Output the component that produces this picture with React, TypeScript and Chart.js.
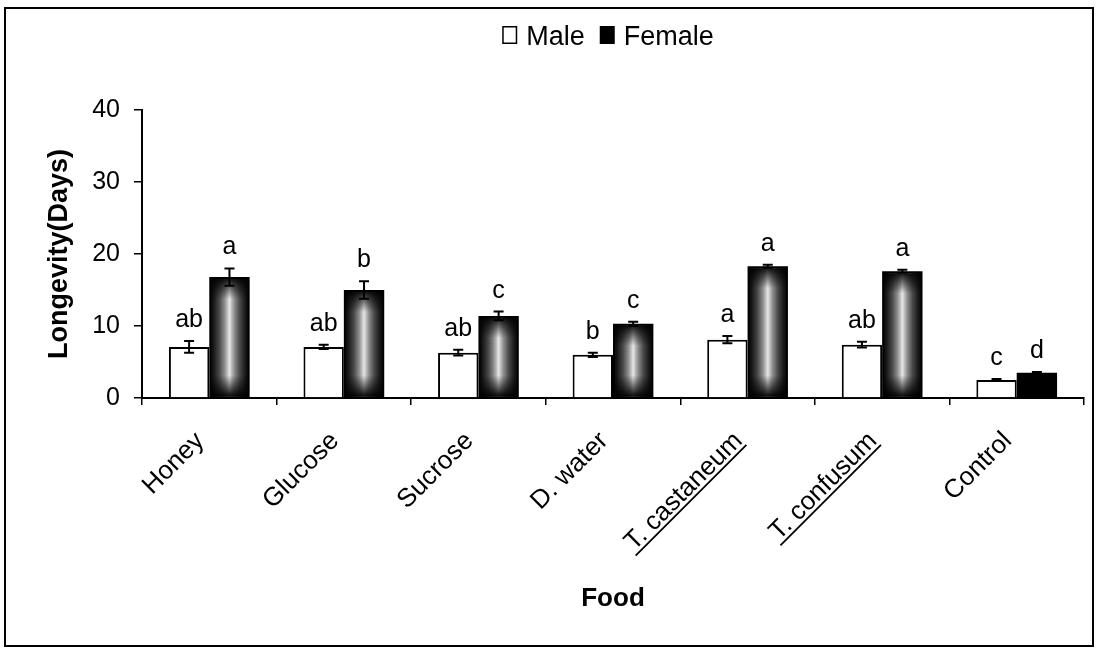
import React, { useEffect, useRef } from 'react';
import { Chart, registerables } from 'chart.js';

Chart.register(...registerables);

const FONT = "'Liberation Sans', Arial, Helvetica, sans-serif";

const categories = ['Honey', 'Glucose', 'Sucrose', 'D. water', 'T. castaneum', 'T. confusum', 'Control'];
const underlinedLabels = [false, false, false, false, true, true, false];
const maleMeans = [7.1, 7.1, 6.3, 6.0, 8.1, 7.4, 2.5];
const maleErrors = [0.8, 0.3, 0.4, 0.3, 0.5, 0.4, 0.15];
const femaleMeans = [16.8, 15.0, 11.4, 10.3, 18.3, 17.6, 3.5];
const femaleErrors = [1.2, 1.2, 0.6, 0.3, 0.2, 0.2, 0.1];
const maleLetters = ['ab', 'ab', 'ab', 'b', 'a', 'ab', 'c'];
const femaleLetters = ['a', 'b', 'c', 'c', 'a', 'a', 'd'];
const seriesNames = ['Male', 'Female'];
const yMin = 0;
const yMax = 40;
const yStep = 10;

const errorsBySeries = [maleErrors, femaleErrors];
const lettersBySeries = [maleLetters, femaleLetters];

const decor = {
  id: 'decor',
  afterDatasetDraw(chart: any, args: any) {
    if (args.index !== 1) return;
    const ctx = chart.ctx;
    const meta = chart.getDatasetMeta(1);
    meta.data.forEach((bar: any) => {
      const { x, y, base, width } = bar.getProps(['x', 'y', 'base', 'width'], true);
      const left = x - width / 2;
      const h = base - y;
      if (h <= 44) return;
      ctx.save();
      const g = ctx.createLinearGradient(left, 0, left + width, 0);
      g.addColorStop(0, '#050505');
      g.addColorStop(0.1, '#161616');
      g.addColorStop(0.25, '#4a4a4a');
      g.addColorStop(0.38, '#8e8e8e');
      g.addColorStop(0.5, '#e6e6e6');
      g.addColorStop(0.62, '#8e8e8e');
      g.addColorStop(0.75, '#4a4a4a');
      g.addColorStop(0.9, '#161616');
      g.addColorStop(1, '#050505');
      ctx.fillStyle = g;
      ctx.fillRect(left + 2, y + 2, width - 4, h - 3);
      const v = ctx.createLinearGradient(0, y, 0, base);
      const f = Math.min(0.5, 22 / h);
      v.addColorStop(0, 'rgba(0,0,0,1)');
      v.addColorStop(f, 'rgba(0,0,0,0)');
      v.addColorStop(1 - f, 'rgba(0,0,0,0)');
      v.addColorStop(1, 'rgba(0,0,0,1)');
      ctx.fillStyle = v;
      ctx.fillRect(left + 2, y + 2, width - 4, h - 3);
      ctx.restore();
    });
  },
  afterDatasetsDraw(chart: any) {
    const ctx = chart.ctx;
    const yScale = chart.scales.y;
    ctx.save();
    ctx.strokeStyle = '#000';
    ctx.fillStyle = '#000';
    ctx.lineWidth = 2;
    ctx.font = `25px ${FONT}`;
    ctx.textAlign = 'center';
    ctx.textBaseline = 'alphabetic';
    [0, 1].forEach((di) => {
      const meta = chart.getDatasetMeta(di);
      const vals = chart.data.datasets[di].data as number[];
      meta.data.forEach((bar: any, j: number) => {
        const x = bar.x;
        const m = vals[j];
        const e = errorsBySeries[di][j];
        const yt = yScale.getPixelForValue(m + e);
        const yb = yScale.getPixelForValue(m - e);
        ctx.beginPath();
        ctx.moveTo(x, yt);
        ctx.lineTo(x, yb);
        ctx.moveTo(x - 5, yt);
        ctx.lineTo(x + 5, yt);
        ctx.moveTo(x - 5, yb);
        ctx.lineTo(x + 5, yb);
        ctx.stroke();
        ctx.fillText(lettersBySeries[di][j], x, yt - 14);
      });
    });
    ctx.restore();
  },
  afterDraw(chart: any) {
    const ctx = chart.ctx;
    const xScale = chart.scales.x;
    const area = chart.chartArea;
    ctx.save();
    // x category labels, rotated 45 degrees
    ctx.fillStyle = '#000';
    ctx.strokeStyle = '#000';
    ctx.font = `26px ${FONT}`;
    ctx.textAlign = 'right';
    ctx.textBaseline = 'alphabetic';
    categories.forEach((lab, i) => {
      const cx = xScale.getPixelForValue(i);
      ctx.save();
      ctx.translate(cx - 4, area.bottom + 44);
      ctx.rotate(-Math.PI / 4);
      ctx.fillText(lab, 0, 0);
      if (underlinedLabels[i]) {
        const w = ctx.measureText(lab).width;
        ctx.lineWidth = 1.8;
        ctx.beginPath();
        ctx.moveTo(-w - 2, 4);
        ctx.lineTo(0, 4);
        ctx.stroke();
      }
      ctx.restore();
    });
    // legend
    ctx.font = `27px ${FONT}`;
    ctx.textAlign = 'left';
    const box = 15;
    const gap = 9;
    const itemGap = 15;
    const w0 = ctx.measureText(seriesNames[0]).width;
    const w1 = ctx.measureText(seriesNames[1]).width;
    const total = box + gap + w0 + itemGap + box + gap + w1;
    let lx = 608 - total / 2;
    const baseY = 45;
    ctx.lineWidth = 1.5;
    ctx.fillStyle = '#fff';
    ctx.fillRect(lx, 26, box, 18);
    ctx.strokeRect(lx + 0.75, 26.75, box - 1.5, 18 - 1.5);
    ctx.fillStyle = '#000';
    ctx.fillText(seriesNames[0], lx + box + gap, baseY);
    lx += box + gap + w0 + itemGap;
    ctx.fillRect(lx, 26, box, 18);
    ctx.fillText(seriesNames[1], lx + box + gap, baseY);
    // outer frame
    ctx.lineWidth = 2;
    ctx.strokeRect(5, 8, 1088, 638);
    ctx.restore();
  },
};

export default function App() {
  const ref = useRef<HTMLCanvasElement | null>(null);
  useEffect(() => {
    if (!ref.current) return;
    const chart = new Chart(ref.current, {
      type: 'bar',
      data: {
        labels: categories,
        datasets: [
          {
            label: seriesNames[0],
            data: maleMeans,
            backgroundColor: '#ffffff',
            borderColor: '#000000',
            borderWidth: 2,
            borderSkipped: 'start',
          },
          {
            label: seriesNames[1],
            data: femaleMeans,
            backgroundColor: '#000000',
            borderColor: '#000000',
            borderWidth: 0,
          },
        ],
      },
      options: {
        responsive: false,
        animation: false,
        layout: { padding: { top: 110, right: 15, bottom: 0, left: 0 } },
        datasets: { bar: { categoryPercentage: 0.6, barPercentage: 1 } },
        plugins: { legend: { display: false }, tooltip: { enabled: false } },
        scales: {
          x: {
            offset: true,
            grid: {
              display: true,
              drawOnChartArea: false,
              drawTicks: true,
              tickLength: 7,
              color: '#000',
              lineWidth: 1.5,
              offset: true,
            },
            border: { display: true, color: '#000', width: 2 },
            ticks: { display: false },
            title: {
              display: true,
              text: 'Food',
              color: '#000',
              font: { family: FONT, size: 26, weight: 'bold' },
              padding: { top: 0, bottom: 34 },
            },
            afterFit: (s: any) => {
              s.height = 250;
            },
          },
          y: {
            min: yMin,
            max: yMax,
            ticks: {
              stepSize: yStep,
              color: '#000',
              font: { family: FONT, size: 25 },
              padding: 14,
            },
            grid: {
              drawOnChartArea: false,
              drawTicks: true,
              tickLength: 8,
              color: '#000',
              lineWidth: 1.5,
            },
            border: { display: true, color: '#000', width: 2 },
            title: {
              display: true,
              text: 'Longevity(Days)',
              color: '#000',
              font: { family: FONT, size: 27, weight: 'bold' },
              padding: { top: 43, bottom: 0 },
            },
            afterFit: (s: any) => {
              s.width = 142;
            },
          },
        },
      } as any,
      plugins: [decor],
    });
    return () => chart.destroy();
  }, []);
  return (
    <div style={{ position: 'fixed', left: 0, top: 0, width: 1099, height: 648, background: '#fff' }}>
      <canvas ref={ref} width={1099} height={648} style={{ display: 'block' }} />
    </div>
  );
}
